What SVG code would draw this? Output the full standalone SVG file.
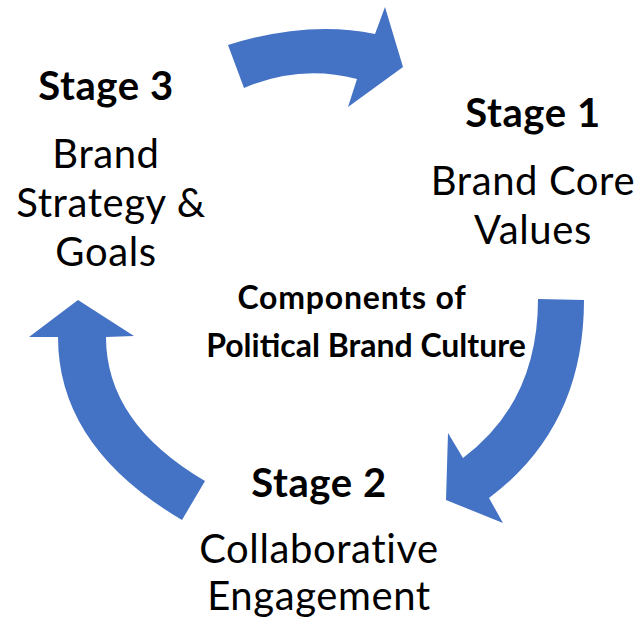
<svg xmlns="http://www.w3.org/2000/svg" width="638" height="624" viewBox="0 0 638 624">
  <style>
    .arrow { fill: #4472C4; stroke: none; }
    .title { font-family: Lato, "Liberation Sans", sans-serif; font-weight: 700; font-size: 40px; letter-spacing: 0.6px; fill: #000; text-anchor: middle; }
    .label { font-family: Lato, "Liberation Sans", sans-serif; font-weight: 400; font-size: 40px; letter-spacing: 0.6px; fill: #000; text-anchor: middle; }
    .center { font-family: Lato, "Liberation Sans", sans-serif; font-weight: 700; font-size: 32px; fill: #000; text-anchor: middle; }
  </style>
  <rect width="638" height="624" fill="#ffffff"/>

  <!-- cycle arrows -->
  <g id="connectors">
    <!-- Stage 3 -> Stage 1 -->
    <path id="arrow-top" class="arrow" d="M228,45 Q308,20 375,34 L385,7 L403,67 L348,107 L357,79 Q300,64 244,88 Z"/>
    <!-- Stage 1 -> Stage 2 -->
    <path id="arrow-right" class="arrow" d="M584,300 Q584,427 489,498 L503,523 L446,500 L448,433 L463,458 Q538,402 538,299 Z"/>
    <!-- Stage 2 -> Stage 3 -->
    <path id="arrow-left" class="arrow" d="M182,520 Q58,447 58,337 L29,337 L78,300 L134,336 L106,337 Q106,423 205,481 Z"/>
  </g>

  <g id="stage3">
    <text class="title" x="106" y="100">Stage 3</text>
    <text class="label" x="106" y="168">Brand</text>
    <text class="label" x="111" y="217">Strategy &amp;</text>
    <text class="label" x="106" y="266">Goals</text>
  </g>

  <g id="stage1">
    <text class="title" x="533" y="127">Stage 1</text>
    <text class="label" x="533" y="195">Brand Core</text>
    <text class="label" x="533" y="244">Values</text>
  </g>

  <g id="stage2">
    <text class="title" x="319" y="497">Stage 2</text>
    <text class="label" x="319" y="563">Collaborative</text>
    <text class="label" x="319" y="610">Engagement</text>
  </g>

  <g id="core">
    <text class="center" x="352" y="309" letter-spacing="0.8">Components of</text>
    <text class="center" x="366" y="357">Political Brand Culture</text>
  </g>
</svg>
